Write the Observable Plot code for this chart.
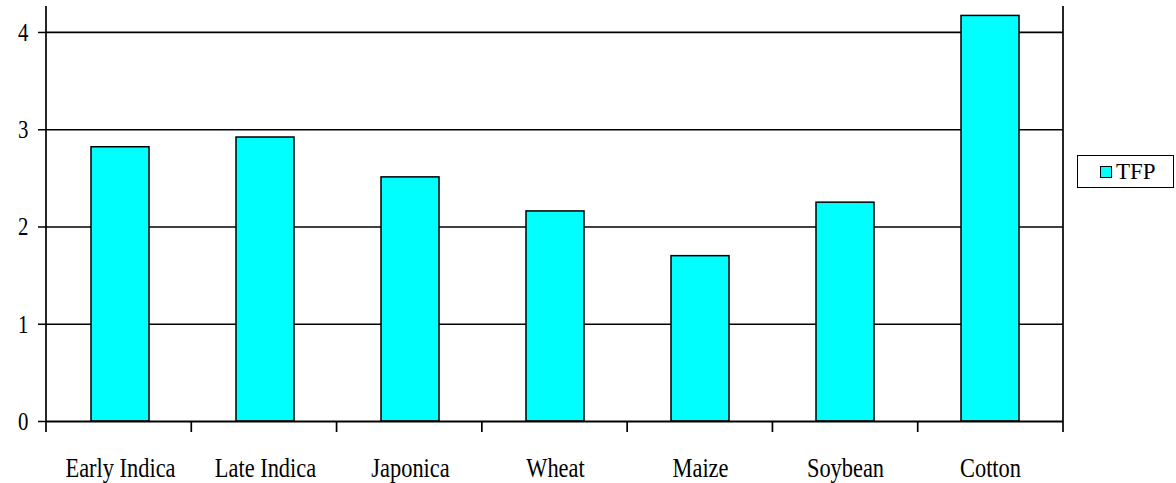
<!DOCTYPE html>
<html>
<head>
<meta charset="utf-8">
<script src="https://cdn.jsdelivr.net/npm/d3@7"></script>
<script src="https://cdn.jsdelivr.net/npm/@observablehq/plot@0.6"></script>
<style>
  html, body { margin: 0; padding: 0; background: #fff; }
  #wrap { position: relative; width: 1176px; height: 483px; font-family: "Liberation Serif", "Times New Roman", serif; }
  #legend {
    position: absolute; left: 1077px; top: 155px; width: 97px; height: 33px;
    border: 1px solid #000; box-sizing: border-box;
    display: flex; align-items: center; padding-left: 22px;
    font-family: "Liberation Serif", "Times New Roman", serif;
    font-size: 23px; color: #000;
  }
  #legend .sw { width: 12px; height: 12px; border: 1px solid #000; background: #00ffff; margin-right: 4px; box-sizing: border-box; }
</style>
</head>
<body>
<div id="wrap"></div>
<script>
// Total factor productivity by crop
const crops = ["Early Indica", "Late Indica", "Japonica", "Wheat", "Maize", "Soybean", "Cotton"];
const tfp = [2.82, 2.92, 2.51, 2.16, 1.70, 2.25, 4.17];
const yTicks = [0, 1, 2, 3, 4];
const seriesName = "TFP";

const rows = crops.map((c, i) => ({crop: c, value: tfp[i]}));

const W = 1176, H = 483;
const serif = "'Liberation Serif', 'Times New Roman', serif";
const plot = Plot.plot({
  width: W,
  height: H,
  marginLeft: 46,
  marginRight: 113,
  marginTop: 6,
  marginBottom: 62,
  style: {fontFamily: serif, background: "#fff", color: "#000"},
  x: {domain: crops, paddingInner: 0.6, paddingOuter: 0.3, label: null},
  y: {domain: [0, 4.267], label: null},
  marks: [
    Plot.ruleY(yTicks.filter(d => d > 0), {stroke: "#000", strokeWidth: 1.7}),
    Plot.barY(rows, {x: "crop", y: "value", fill: "#00ffff", stroke: "#000", strokeWidth: 1.5}),
    Plot.ruleY([0], {stroke: "#000", strokeWidth: 2.2}),
    Plot.axisX({tickSize: 0, tickPadding: 36, fontSize: 28, label: null}),
    Plot.axisY({ticks: yTicks, tickFormat: d => String(d), tickSize: 8, tickPadding: 10, fontSize: 26, label: null, strokeWidth: 1.5})
  ]
});

document.getElementById("wrap").appendChild(plot);

// Side borders and category boundary ticks, placed from the plot's scales
const xs = plot.scale("x"), ys = plot.scale("y");
const [x0, x1] = xs.range;
const y0 = ys.apply(0), yTop = ys.range[1];
const n = crops.length;
const g = d3.select(plot).append("g").attr("stroke", "#000");
[x0, x1].forEach(x => g.append("line").attr("x1", x).attr("x2", x).attr("y1", yTop).attr("y2", y0).attr("stroke-width", 1.7));
d3.range(n + 1).forEach(i => {
  const x = x0 + i * (x1 - x0) / n;
  g.append("line").attr("x1", x).attr("x2", x).attr("y1", y0).attr("y2", y0 + 11).attr("stroke-width", 1.7);
});

// Serif, narrowed axis lettering
d3.select(plot).selectAll("text").each(function () {
  const lab = (this.parentNode && this.parentNode.getAttribute("aria-label")) || "";
  const size = lab.startsWith("y") ? 26 : 28;
  this.style.fontFamily = serif;
  this.style.fontSize = size + "px";
  const tr = this.getAttribute("transform");
  if (tr) this.setAttribute("transform", tr + " scale(0.8,1)");
  else {
    const len = this.getComputedTextLength();
    this.setAttribute("textLength", len * 0.8);
    this.setAttribute("lengthAdjust", "spacingAndGlyphs");
  }
});

// Legend
const legend = document.createElement("div");
legend.id = "legend";
legend.innerHTML = `<span class="sw"></span><span>${seriesName}</span>`;
document.getElementById("wrap").appendChild(legend);
</script>
</body>
</html>
